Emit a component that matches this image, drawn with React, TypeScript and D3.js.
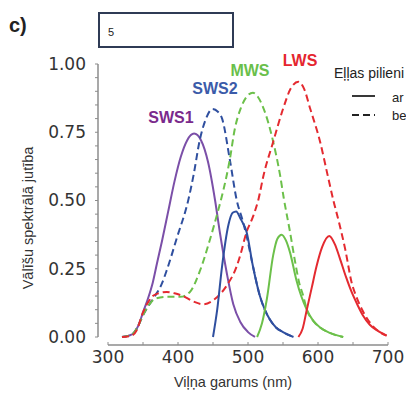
import React, { useEffect, useRef } from 'react';
import * as d3 from 'd3';

type Pt = [number, number];

// wavelength (nm), relative sensitivity
const sws1Solid: Pt[] = [[320, 0], [330, 0.005], [337, 0.015], [343, 0.04], [350, 0.09], [357, 0.14], [364, 0.2], [370, 0.27], [377, 0.35], [386, 0.46], [395, 0.57], [404, 0.66], [413, 0.72], [423, 0.745], [433, 0.72], [443, 0.64], [453, 0.5], [460, 0.38], [470, 0.23], [479, 0.12], [489, 0.055], [500, 0.018], [510, 0]];
const sws2Solid: Pt[] = [[450, 0], [456, 0.1], [463, 0.26], [472, 0.41], [478, 0.455], [483, 0.46], [490, 0.43], [498, 0.385], [507, 0.26], [517, 0.15], [524, 0.1], [531, 0.065], [540, 0.035], [550, 0.018], [565, 0]];
const mwsSolid: Pt[] = [[513, 0], [520, 0.05], [527, 0.14], [536, 0.3], [542, 0.36], [548, 0.375], [554, 0.355], [560, 0.31], [569, 0.21], [576, 0.15], [584, 0.1], [593, 0.06], [603, 0.035], [617, 0.015], [636, 0]];
const lwsSolid: Pt[] = [[572, 0], [578, 0.03], [584, 0.1], [591, 0.18], [598, 0.26], [606, 0.33], [616, 0.37], [624, 0.34], [631, 0.29], [640, 0.22], [648, 0.165], [656, 0.12], [664, 0.08], [674, 0.045], [684, 0.025], [698, 0.005]];

const sws2Dashed: Pt[] = [[320, 0], [330, 0.005], [337, 0.015], [343, 0.04], [350, 0.08], [358, 0.115], [367, 0.15], [376, 0.19], [384, 0.245], [398, 0.36], [415, 0.505], [422, 0.59], [431, 0.72], [440, 0.8], [449, 0.835], [457, 0.825], [463, 0.8], [474, 0.65], [484, 0.5], [492, 0.43], [498, 0.37], [507, 0.26], [517, 0.15], [524, 0.1], [531, 0.065], [540, 0.035], [550, 0.018], [565, 0]];
const mwsDashed: Pt[] = [[320, 0], [330, 0.005], [337, 0.015], [343, 0.04], [350, 0.08], [358, 0.115], [367, 0.14], [384, 0.147], [403, 0.147], [417, 0.165], [431, 0.24], [446, 0.36], [457, 0.46], [465, 0.54], [474, 0.65], [481, 0.76], [490, 0.84], [498, 0.88], [507, 0.895], [514, 0.88], [521, 0.845], [529, 0.785], [536, 0.715], [546, 0.59], [551, 0.51], [560, 0.385], [567, 0.28], [573, 0.2], [579, 0.15], [584, 0.1], [593, 0.06], [603, 0.035], [617, 0.015], [636, 0]];
const lwsDashed: Pt[] = [[320, 0], [334, 0.005], [341, 0.025], [350, 0.09], [358, 0.13], [364, 0.15], [372, 0.16], [384, 0.165], [395, 0.16], [407, 0.15], [422, 0.13], [436, 0.12], [453, 0.14], [470, 0.19], [484, 0.26], [489, 0.3], [498, 0.385], [507, 0.44], [515, 0.505], [522, 0.59], [536, 0.715], [550, 0.835], [561, 0.91], [572, 0.935], [580, 0.91], [589, 0.835], [603, 0.715], [614, 0.59], [622, 0.5], [630, 0.42], [639, 0.32], [648, 0.2], [656, 0.14], [664, 0.095], [675, 0.05], [686, 0.022], [698, 0.005]];

const yTicks = [0, 0.25, 0.5, 0.75, 1];
const xTicks = [300, 400, 500, 600, 700];

const purple = '#7b4fa8';
const blue = '#2f4f9f';
const green = '#6cc04a';
const red = '#e42a30';

const curves = [
  { data: sws1Solid, color: purple, dashed: false },
  { data: sws2Dashed, color: blue, dashed: true },
  { data: mwsDashed, color: green, dashed: true },
  { data: lwsDashed, color: red, dashed: true },
  { data: sws2Solid, color: blue, dashed: false },
  { data: mwsSolid, color: green, dashed: false },
  { data: lwsSolid, color: red, dashed: false },
];

const peakLabels = [
  { text: 'SWS1', color: '#7a2a8c', x: 171, y: 117 },
  { text: 'SWS2', color: '#3b5ba9', x: 215, y: 88 },
  { text: 'MWS', color: '#6abf4b', x: 250, y: 70 },
  { text: 'LWS', color: '#e5262f', x: 300, y: 60 },
];

const App: React.FC = () => {
  const ref = useRef<SVGSVGElement>(null);

  useEffect(() => {
    const svg = d3.select(ref.current);
    svg.selectAll('*').remove();

    const x = d3.scaleLinear().domain([300, 700]).range([108, 388]);
    const y = d3.scaleLinear().domain([0, 1]).range([337, 64]);
    const textColor = '#333';
    const axisColor = '#8c8c8c';

    // panel letter and answer box
    svg.append('text').attr('x', 9).attr('y', 32).attr('font-family', 'Liberation Sans, Arial')
      .attr('font-weight', 'bold').attr('font-size', 20).attr('fill', '#222').text('c)');
    svg.append('rect').attr('x', 99).attr('y', 13).attr('width', 134).attr('height', 34)
      .attr('fill', 'white').attr('stroke', '#2f3b55').attr('stroke-width', 2);
    svg.append('text').attr('x', 108).attr('y', 36).attr('font-family', 'Liberation Sans, Arial')
      .attr('font-size', 11).attr('fill', '#222').text('5');

    // y axis
    const gy = svg.append('g');
    gy.append('line').attr('x1', 98).attr('x2', 98).attr('y1', y(1)).attr('y2', y(0))
      .attr('stroke', axisColor).attr('stroke-width', 1.5);
    gy.selectAll('line.minor').data(d3.range(0, 1.0001, 0.05)).enter().append('line')
      .attr('class', 'minor').attr('x1', 95).attr('x2', 98)
      .attr('y1', d => y(d)).attr('y2', d => y(d)).attr('stroke', axisColor);
    gy.selectAll('text').data(yTicks).enter().append('text')
      .attr('x', 86).attr('y', d => y(d)).attr('dy', '0.35em').attr('text-anchor', 'end')
      .attr('font-family', 'DejaVu Sans').attr('font-size', 17).attr('fill', textColor)
      .text(d => d3.format('.2f')(d));

    // x axis
    const gx = svg.append('g');
    gx.append('line').attr('x1', x(300)).attr('x2', x(700)).attr('y1', 345).attr('y2', 345)
      .attr('stroke', axisColor).attr('stroke-width', 1.5);
    gx.selectAll('line.minor').data(d3.range(300, 701, 50)).enter().append('line')
      .attr('class', 'minor').attr('x1', d => x(d)).attr('x2', d => x(d))
      .attr('y1', 342).attr('y2', 345).attr('stroke', axisColor);
    gx.selectAll('text').data(xTicks).enter().append('text')
      .attr('x', d => x(d)).attr('y', 357).attr('dy', '0.35em').attr('text-anchor', 'middle')
      .attr('font-family', 'DejaVu Sans').attr('font-size', 17).attr('fill', textColor)
      .text(d => String(d));

    // axis titles
    svg.append('text').attr('x', 233).attr('y', 382).attr('dy', '0.35em').attr('text-anchor', 'middle')
      .attr('font-family', 'Liberation Sans, Arial').attr('font-size', 14.5).attr('fill', textColor)
      .text('Viļņa garums (nm)');
    svg.append('text').attr('transform', 'translate(28,218) rotate(-90)').attr('dy', '0.35em')
      .attr('text-anchor', 'middle').attr('font-family', 'Liberation Sans, Arial')
      .attr('font-size', 14.5).attr('fill', textColor).text('Vālīšu spektrālā jutība');

    // curves
    const line = d3.line<Pt>().x(d => x(d[0])).y(d => y(d[1])).curve(d3.curveMonotoneX);
    svg.append('g').selectAll('path').data(curves).enter().append('path')
      .attr('d', d => line(d.data))
      .attr('fill', 'none').attr('stroke', d => d.color).attr('stroke-width', 2)
      .attr('stroke-dasharray', d => (d.dashed ? '7,4' : null));

    // peak labels
    svg.append('g').selectAll('text').data(peakLabels).enter().append('text')
      .attr('x', d => d.x).attr('y', d => d.y).attr('dy', '0.35em').attr('text-anchor', 'middle')
      .attr('font-family', 'Liberation Sans, Arial').attr('font-weight', 'bold').attr('font-size', 16)
      .attr('fill', d => d.color).text(d => d.text);

    // legend
    const lg = svg.append('g').attr('font-family', 'Liberation Sans, Arial').attr('fill', '#222');
    lg.append('text').attr('x', 334).attr('y', 73).attr('dy', '0.35em').attr('font-size', 14).text('Eļļas pilieni');
    lg.append('line').attr('x1', 352).attr('x2', 375).attr('y1', 96).attr('y2', 96)
      .attr('stroke', '#222').attr('stroke-width', 1.8);
    lg.append('line').attr('x1', 352).attr('x2', 375).attr('y1', 115).attr('y2', 115)
      .attr('stroke', '#222').attr('stroke-width', 1.8).attr('stroke-dasharray', '7,4');
    lg.append('text').attr('x', 392).attr('y', 97).attr('dy', '0.35em').attr('font-size', 13).text('ar');
    lg.append('text').attr('x', 392).attr('y', 115).attr('dy', '0.35em').attr('font-size', 13).text('be');
  }, []);

  return (
    <svg ref={ref} width={406} height={394}
      style={{ position: 'absolute', left: 0, top: 0, background: 'white' }} />
  );
};

export default App;
